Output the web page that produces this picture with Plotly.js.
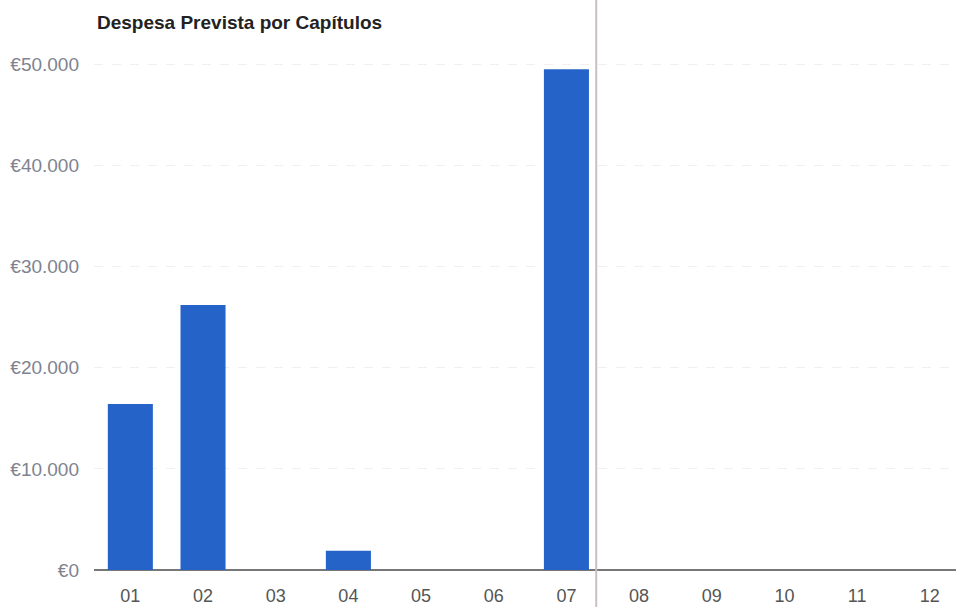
<!DOCTYPE html>
<html>
<head>
<meta charset="utf-8">
<script src="https://cdn.plot.ly/plotly-3.0.1.min.js"></script>
<style>html,body{margin:0;padding:0;background:#fff;}#chart{width:956px;height:607px;}</style>
</head>
<body>
<div id="chart"></div>
<script>
const categories = ["01","02","03","04","05","06","07","08","09","10","11","12"];
const despesa = [16400, 26200, 0, 1900, 0, 0, 49500, 0, 0, 0, 0, 0];
const yTicks = [0, 10000, 20000, 30000, 40000, 50000];
const chartTitle = "Despesa Prevista por Capítulos";

function euro(v) {
  return "\u20AC" + String(v).replace(/\B(?=(\d{3})+(?!\d))/g, ".");
}
const yTickText = yTicks.map(euro);

const trace = {
  type: "bar",
  x: categories,
  y: despesa,
  marker: {color: "#2563c8"},
  hoverinfo: "x+y"
};

const layout = {
  width: 956,
  height: 607,
  margin: {l: 94, r: 0, t: 44, b: 37},
  paper_bgcolor: "#ffffff",
  plot_bgcolor: "#ffffff",
  separators: ",.",
  bargap: 0.38,
  showlegend: false,
  title: {
    text: "<b>" + chartTitle + "</b>",
    x: 97 / 956, xref: "container", xanchor: "left",
    y: 27, yref: "container", yanchor: "middle",
    font: {family: "Liberation Sans, Arial, sans-serif", size: 19, color: "#222222"}
  },
  xaxis: {
    type: "category",
    range: [-0.5, 11.36],
    showgrid: false,
    zeroline: false,
    showline: false,
    ticks: "",
    ticklabelstandoff: 13,
    tickfont: {family: "Liberation Sans, Arial, sans-serif", size: 18, color: "#555555"}
  },
  yaxis: {
    range: [0, 52000],
    tickvals: yTicks,
    ticktext: yTickText,
    showgrid: true,
    gridcolor: "#f0f0f0",
    griddash: "dash",
    gridwidth: 1,
    zeroline: true,
    zerolinecolor: "#777777",
    zerolinewidth: 1.5,
    showline: false,
    ticks: "",
    ticklabelstandoff: 14,
    tickfont: {family: "Liberation Sans, Arial, sans-serif", size: 19, color: "#80838f"}
  },
  shapes: [{
    type: "line",
    xref: "x", yref: "paper",
    x0: 6.41, x1: 6.41, y0: -0.1, y1: 1.2,
    line: {color: "#c9bfc3", width: 2}
  }]
};

Plotly.newPlot("chart", [trace], layout, {displayModeBar: false, staticPlot: true});
</script>
</body>
</html>
